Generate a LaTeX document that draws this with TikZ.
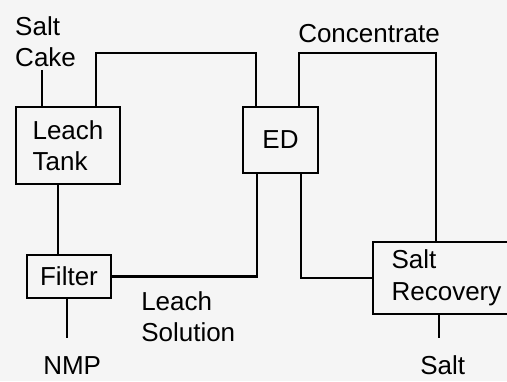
\documentclass[tikz,border=0pt]{standalone}
\usepackage{fontspec}
\setmainfont{Liberation Sans}
\usepackage{tikz}

\begin{document}
\begin{tikzpicture}[x=1pt,y=1pt,line width=2.5pt,font=\fontsize{26}{31.5}\selectfont,
    unit/.style={draw,line width=2.8pt,inner sep=0pt,align=left},
    lbl/.style={inner sep=0pt,align=left}]
  \useasboundingbox (0,0) rectangle (507,381);
  \fill[white!96!black] (0,0) rectangle (507,381);
  \clip (0,0) rectangle (507,381);
  % process units
  \node[unit,minimum width=104pt,minimum height=77pt] (tank) at (68,235.5) {Leach\\Tank};
  \node[unit,minimum width=75pt,minimum height=66pt] (ed) at (280.5,241) {ED};
  \node[unit,minimum width=84pt,minimum height=43pt] (filter) at (69,104.5) {Filter};
  \node[unit,minimum width=147pt,minimum height=72pt] (rec) at (446.5,103) {Salt\\Recovery};
  % stream ends and ports
  \coordinate (top) at (0,328);
  \coordinate (cakein) at (42,311);
  \coordinate (nmpout) at (67,43);
  \coordinate (saltout) at (439,43);
  \coordinate (ed-a) at ([xshift=-24.5pt]ed.north);
  \coordinate (ed-b) at ([xshift=18.5pt]ed.north);
  \coordinate (ed-c) at ([xshift=-23.5pt]ed.south);
  \coordinate (ed-d) at ([xshift=20.5pt]ed.south);
  \coordinate (rec-in) at ([xshift=-10.5pt]rec.north);
  % streams
  \draw (cakein) -- (cakein |- tank.north);
  \draw ([xshift=28pt]tank.north) |- (ed-a |- top) -- (ed-a);
  \draw (ed-b) -- (ed-b |- top) -| (rec-in);
  \draw ([xshift=-10pt]tank.south) -- ([xshift=-10pt]tank.south |- filter.north);
  \draw (ed-c) |- (filter.east);
  \draw (ed-d) |- (rec.west);
  \draw (nmpout |- filter.south) -- (nmpout);
  \draw (saltout |- rec.south) -- (saltout);
  % labels
  \node[lbl,anchor=north west] (cake) at (14,366) {Salt\\Cake};
  \node[lbl,anchor=base west] (conc) at (297,338) {Concentrate};
  \node[lbl,anchor=north west] (sol) at (140,91) {Leach\\Solution};
  \node[lbl,anchor=base west] (nmp) at (42,6) {NMP};
  \node[lbl,anchor=base west] (salt) at (419,6) {Salt};
\end{tikzpicture}
\end{document}
